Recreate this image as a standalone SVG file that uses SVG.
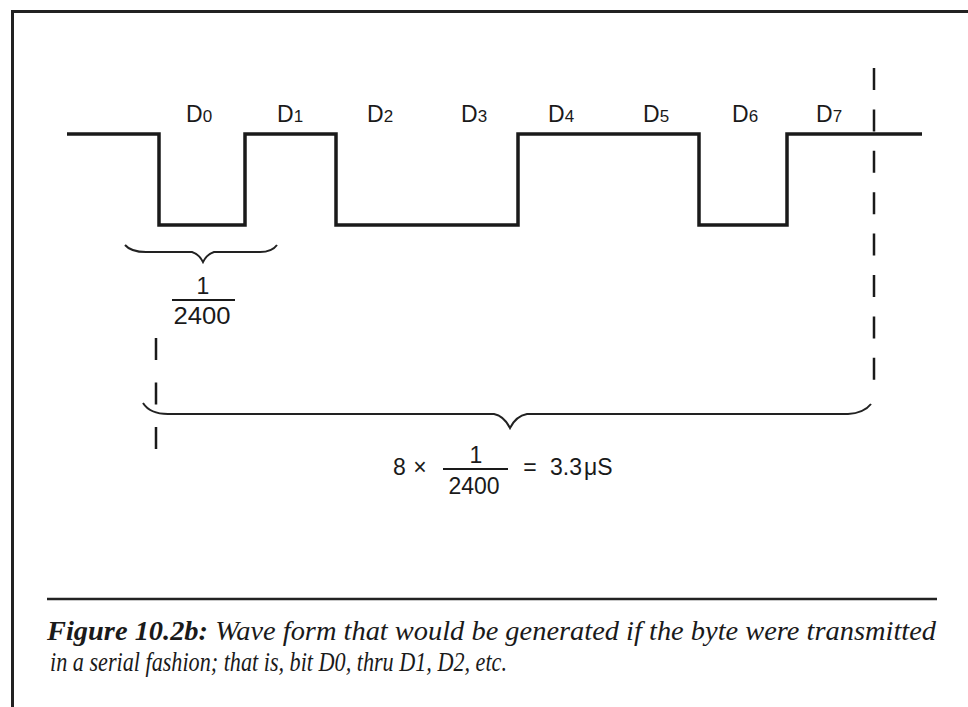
<svg xmlns="http://www.w3.org/2000/svg" width="968" height="707" viewBox="0 0 968 707">
<style>
.wave{fill:none;stroke:#1a1a1a;stroke-width:3.5;stroke-linejoin:miter}
.brace{fill:none;stroke:#222;stroke-width:2}
.dash{stroke:#1a1a1a;stroke-width:2.5}
.border{stroke:#222;stroke-width:3;fill:none}
.lbl{font-family:"Liberation Sans",Arial,sans-serif;fill:#1a1a1a}
.cap{font-family:"Liberation Serif","Times New Roman",serif;font-style:italic;fill:#1a1a1a;font-size:27px}
</style>
<g id="frame">
<polyline class="border" points="12.5,707 12.5,11.5 968,11.5"/>
<line x1="47" y1="599" x2="937" y2="599" stroke="#222" stroke-width="2.5"/>
</g>
<g id="connectors">
<polyline id="waveform" class="wave" points="67,134 159,134 159,225 245,225 245,134 336,134 336,225 518,225 518,134 699,134 699,225 787,225 787,134 922,134"/>
<line class="dash" x1="874" y1="68" x2="874" y2="383" stroke-dasharray="22 19.4"/>
<line class="dash" x1="156" y1="338" x2="156" y2="450" stroke-dasharray="22 22.5"/>
<path class="brace" d="M125,245 Q131,252 146,252 L192,252 Q199,254 203,262 Q207,254 214,252 L260,252 Q272,252 277,245"/>
<path class="brace" d="M143,403 Q150,414 168,414 L494,414 Q504,416 510,428 Q516,416 527,414 L848,414 Q864,413 871,404"/>
</g>
<g id="bit-labels" class="lbl" font-size="23">
<text x="186" y="122">D<tspan font-size="17">0</tspan></text>
<text x="277" y="122">D<tspan font-size="17">1</tspan></text>
<text x="367" y="122">D<tspan font-size="17">2</tspan></text>
<text x="461" y="122">D<tspan font-size="17">3</tspan></text>
<text x="548" y="122">D<tspan font-size="17">4</tspan></text>
<text x="643" y="122">D<tspan font-size="17">5</tspan></text>
<text x="732" y="122">D<tspan font-size="17">6</tspan></text>
<text x="816" y="122">D<tspan font-size="17">7</tspan></text>
</g>
<g id="bit-period" class="lbl" font-size="23" text-anchor="middle">
<text x="203" y="294">1</text>
<line x1="172" y1="300" x2="235" y2="300" stroke="#1a1a1a" stroke-width="1.8"/>
<text x="202" y="324" textLength="57" lengthAdjust="spacingAndGlyphs">2400</text>
</g>
<g id="byte-period" class="lbl" font-size="23">
<text x="393" y="475">8</text>
<text x="420" y="475" text-anchor="middle">×</text>
<text x="476" y="463" text-anchor="middle">1</text>
<line x1="443" y1="469" x2="508" y2="469" stroke="#1a1a1a" stroke-width="1.8"/>
<text x="474" y="494" text-anchor="middle">2400</text>
<text x="530" y="475" text-anchor="middle">=</text>
<text x="550" y="475">3.3<tspan dx="2">μS</tspan></text>
</g>
<g id="caption">
<text class="cap" x="47" y="640" textLength="889" lengthAdjust="spacingAndGlyphs"><tspan font-weight="bold">Figure 10.2b:</tspan> Wave form that would be generated if the byte were transmitted</text>
<text class="cap" x="50" y="671" textLength="457" lengthAdjust="spacingAndGlyphs">in a serial fashion; that is, bit D0, thru D1, D2, etc.</text>
</g>
</svg>
